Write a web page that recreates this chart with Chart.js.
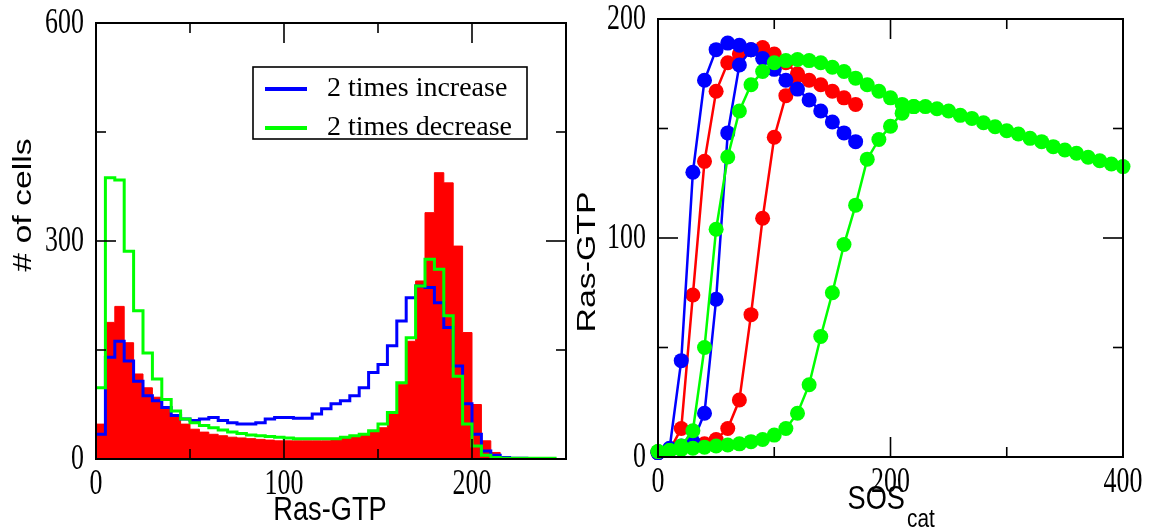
<!DOCTYPE html>
<html>
<head>
<meta charset="utf-8">
<script src="https://cdn.jsdelivr.net/npm/chart.js@4.4.1/dist/chart.umd.min.js"></script>
<style>
  html, body { margin: 0; padding: 0; background: #fff; }
  #wrap { position: relative; width: 1150px; height: 531px; }
  canvas { position: absolute; top: 0; }
</style>
</head>
<body>
<div id="wrap">
  <canvas id="histChart" width="575" height="531" style="left:0"></canvas>
  <canvas id="sosChart" width="575" height="531" style="left:575px"></canvas>
</div>
<script>
// ---- left panel: histogram of Ras-GTP (bin left edges, width 5) ----
const binEdges = [0, 5, 10, 15, 20, 25, 30, 35, 40, 45, 50, 55, 60, 65, 70, 75, 80, 85, 90, 95,
  100, 105, 110, 115, 120, 125, 130, 135, 140, 145, 150, 155, 160, 165, 170, 175, 180, 185, 190, 195,
  200, 205, 210, 215, 220, 225, 230, 235, 240, 245, 250];
const redCounts = [48, 188, 210, 160, 117, 98, 85, 71, 60, 48, 41, 37, 34, 32, 30, 29, 28, 27, 26, 25,
  25, 25, 25, 25, 25, 27, 30, 32, 34, 37, 43, 62, 103, 162, 245, 339, 394, 380, 293, 174,
  75, 25, 9, 2];
const blueCounts = [34, 140, 162, 135, 107, 87, 80, 71, 60, 55, 53, 55, 57, 53, 50, 48, 48, 50, 55, 57,
  57, 56, 56, 62, 69, 76, 80, 87, 98, 119, 130, 156, 190, 222, 238, 236, 215, 181, 128, 76,
  34, 11, 5, 2, 1, 1];
const greenCounts = [98, 387, 384, 286, 204, 146, 110, 82, 66, 55, 50, 46, 43, 40, 37, 35, 33, 32, 31, 30,
  29, 28, 28, 28, 28, 28, 30, 32, 34, 39, 48, 64, 105, 167, 238, 275, 261, 197, 114, 48,
  18, 5, 2, 1, 1, 1, 1, 1, 1];
const histXMajor = [0, 100, 200];
const histXMinor = [50, 150];
const histYMajor = [0, 300, 600];
const histYMinor = [150, 450];

// ---- right panel: Ras-GTP vs SOScat, two sweeps per colour ----
const blueHiX = [0, 10, 20, 30, 40, 50, 60, 70, 80, 90, 100, 110, 120, 130, 140, 150, 160, 170];
const blueHiY = [2, 4, 44, 130, 172, 186, 189, 188, 186, 182, 177, 172, 168, 163, 158, 153, 148, 144];
const blueLoX = [0, 10, 20, 30, 40, 50, 60, 70, 80];
const blueLoY = [2, 3, 5, 7, 20, 72, 148, 179, 186];
const redHiX = [0, 10, 20, 30, 40, 50, 60, 70, 80, 90, 100, 110, 120, 130, 140, 150, 160, 170];
const redHiY = [2, 3, 13, 74, 135, 167, 180, 184, 186, 187, 184, 180, 175, 172, 170, 167, 164, 161];
const redLoX = [0, 10, 20, 30, 40, 50, 60, 70, 80, 90, 100, 110, 120];
const redLoY = [2, 3, 4, 5, 6, 8, 13, 26, 65, 109, 146, 165, 174];
const greenHiX = [0, 10, 20, 30, 40, 50, 60, 70, 80, 90, 100, 110, 120, 130, 140, 150, 160, 170, 180, 190,
  200, 210, 220, 230, 240, 250, 260, 270, 280, 290, 300, 310, 320, 330, 340, 350, 360, 370, 380, 390, 400];
const greenHiY = [2.5, 3, 5, 12, 50, 104, 137, 158, 170, 176, 180, 181, 181.5, 181, 180, 178, 176, 173, 170, 167,
  164, 161, 160, 160, 159, 158, 156, 154.6, 152.6, 150.8, 149, 147.5, 145.5, 144, 141.7, 140.2, 138.7, 136.9, 135.3, 133.8, 132.6];
const greenLoX = [0, 10, 20, 30, 40, 50, 60, 70, 80, 90, 100, 110, 120, 130, 140, 150, 160, 170, 180, 190, 200, 210, 220];
const greenLoY = [2.5, 3, 3.5, 4, 4.5, 5, 5.5, 6, 7, 8, 10, 13, 20, 33, 55, 75, 97, 115, 136, 145, 151, 157, 160];
const sosXMajor = [0, 200, 400];
const sosXMinor = [100, 300];
const sosYMajor = [0, 100, 200];
const sosYMinor = [50, 150];

const BLUE = '#0000ff';
const RED = '#ff0000';
const GREEN = '#00ff00';

function stepPoints(vals) {
  const pts = vals.map((v, i) => ({ x: binEdges[i], y: v }));
  pts.push({ x: binEdges[vals.length], y: vals[vals.length - 1] });
  return pts;
}

function xy(xs, ys) {
  return xs.map((x, i) => ({ x, y: ys[i] }));
}

function squeezeText(ctx, text, x, y, font, sx, align, rot) {
  ctx.save();
  ctx.translate(x, y);
  if (rot) ctx.rotate(rot);
  ctx.scale(sx, 1);
  ctx.font = font;
  ctx.textAlign = align;
  ctx.textBaseline = 'middle';
  ctx.fillStyle = '#000';
  ctx.fillText(text, 0, 0);
  ctx.restore();
}

// frame with inward ticks on all four sides, labels and titles
const axesFrame = {
  id: 'axesFrame',
  afterDatasetsDraw(chart, args, o) {
    const { ctx, chartArea: a } = chart;
    const sx = chart.scales.x, sy = chart.scales.y;
    const seg = (x1, y1, x2, y2) => { ctx.beginPath(); ctx.moveTo(x1, y1); ctx.lineTo(x2, y2); ctx.stroke(); };
    ctx.save();
    ctx.strokeStyle = '#000';
    ctx.lineWidth = 1.6;
    const tickX = (v, len) => { const p = sx.getPixelForValue(v); seg(p, a.bottom, p, a.bottom - len); seg(p, a.top, p, a.top + len); };
    const tickY = (v, len) => { const p = sy.getPixelForValue(v); seg(a.left, p, a.left + len, p); seg(a.right, p, a.right - len, p); };
    o.xMajor.forEach(v => tickX(v, 20));
    o.xMinor.forEach(v => tickX(v, 10));
    o.yMajor.forEach(v => tickY(v, 20));
    o.yMinor.forEach(v => tickY(v, 10));
    ctx.lineWidth = 2;
    ctx.strokeRect(a.left, a.top, a.right - a.left, a.bottom - a.top);
    ctx.restore();

    const tickFont = '36px "Liberation Serif"';
    o.xMajor.forEach(v => squeezeText(ctx, String(v), sx.getPixelForValue(v), a.bottom + 26, tickFont, 0.72, 'center'));
    o.yMajor.forEach(v => squeezeText(ctx, String(v), a.left - 12, sy.getPixelForValue(v) + 1, tickFont, 0.72, 'right'));

    const titleFont = '34px "Liberation Sans"';
    o.titles.forEach(t => {
      if (t.rot) squeezeText(ctx, t.text, t.x, t.y, t.font || '26px "Liberation Sans"', 1.3, 'center', -Math.PI / 2);
      else squeezeText(ctx, t.text, t.x, t.y, t.font || titleFont, 0.8, t.align || 'center');
    });

    if (o.legend) {
      const L = o.legend;
      ctx.save();
      ctx.fillStyle = '#fff';
      ctx.fillRect(L.x, L.y, L.w, L.h);
      ctx.strokeStyle = '#000';
      ctx.lineWidth = 1.6;
      ctx.strokeRect(L.x, L.y, L.w, L.h);
      chart.data.datasets.filter(d => d.label).forEach((d, i) => {
        const cy = L.y + L.row0 + i * L.rowGap;
        ctx.strokeStyle = d.borderColor;
        ctx.lineWidth = 4;
        seg(L.x + 12, cy, L.x + 54, cy);
        squeezeText(ctx, d.label, L.x + 74, cy, '28px "Liberation Serif"', 1, 'left');
      });
      ctx.restore();
    }
  }
};

const common = {
  responsive: false,
  animation: false,
  devicePixelRatio: 1,
  plugins: { legend: { display: false }, tooltip: { enabled: false } },
  elements: { point: { radius: 0 } }
};

new Chart(document.getElementById('histChart'), {
  type: 'line',
  data: {
    datasets: [
      { label: '', data: stepPoints(redCounts), stepped: true, borderColor: RED, backgroundColor: RED,
        borderWidth: 1, fill: 'origin', order: 3 },
      { label: '2 times increase', data: stepPoints(blueCounts), stepped: true, borderColor: BLUE,
        borderWidth: 3, fill: false, order: 2 },
      { label: '2 times decrease', data: stepPoints(greenCounts), stepped: true, borderColor: GREEN,
        borderWidth: 3, fill: false, order: 1 }
    ]
  },
  options: {
    ...common,
    layout: { padding: { left: 96, right: 9, top: 23, bottom: 72 } },
    scales: {
      x: { type: 'linear', min: 0, max: 250, display: false },
      y: { min: 0, max: 600, display: false }
    },
    plugins: {
      ...common.plugins,
      axesFrame: {
        xMajor: histXMajor, xMinor: histXMinor, yMajor: histYMajor, yMinor: histYMinor,
        titles: [
          { text: '# of cells', x: 24, y: 205, rot: true },
          { text: 'Ras-GTP', x: 330, y: 511 }
        ],
        legend: { x: 253, y: 67, w: 274, h: 72, row0: 22, rowGap: 39 }
      }
    }
  },
  plugins: [axesFrame]
});

function sweep(xs, ys, color, order) {
  return { data: xy(xs, ys), borderColor: color, backgroundColor: color, borderWidth: 2.5,
    pointRadius: 7.5, pointBackgroundColor: color, pointBorderWidth: 0, fill: false,
    clip: false, order };
}

new Chart(document.getElementById('sosChart'), {
  type: 'line',
  data: {
    datasets: [
      sweep(redHiX, redHiY, RED, 6),
      sweep(redLoX, redLoY, RED, 5),
      sweep(blueHiX, blueHiY, BLUE, 4),
      sweep(blueLoX, blueLoY, BLUE, 3),
      sweep(greenHiX, greenHiY, GREEN, 2),
      sweep(greenLoX, greenLoY, GREEN, 1)
    ]
  },
  options: {
    ...common,
    layout: { padding: { left: 83, right: 27, top: 19, bottom: 74 } },
    scales: {
      x: { type: 'linear', min: 0, max: 400, display: false },
      y: { min: 0, max: 200, display: false }
    },
    plugins: {
      ...common.plugins,
      axesFrame: {
        xMajor: sosXMajor, xMinor: sosXMinor, yMajor: sosYMajor, yMinor: sosYMinor,
        titles: [
          { text: 'Ras-GTP', x: 13, y: 262, rot: true },
          { text: 'SOS', x: 330, y: 500, align: 'right' },
          { text: 'cat', x: 332, y: 520, align: 'left', font: '26px "Liberation Sans"' }
        ]
      }
    }
  },
  plugins: [axesFrame]
});
</script>
</body>
</html>
